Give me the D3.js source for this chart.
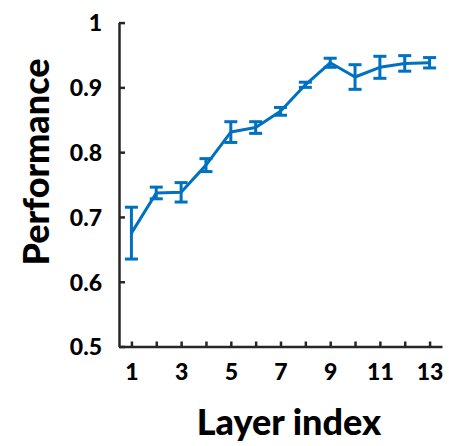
<!DOCTYPE html>
<html>
<head>
<meta charset="utf-8">
<script src="https://cdn.jsdelivr.net/npm/d3@7"></script>
<style>
  html, body { margin: 0; padding: 0; background: #fff; }
  svg { display: block; }
  text { font-family: Lato, "Open Sans", sans-serif; font-weight: 900; fill: #000; }
</style>
</head>
<body>
<svg id="chart" width="449" height="446"></svg>
<script>
// Layer-wise performance with error bars
const layers = [1, 2, 3, 4, 5, 6, 7, 8, 9, 10, 11, 12, 13];
const performance = [0.675, 0.737, 0.738, 0.780, 0.831, 0.838, 0.863, 0.904, 0.938, 0.916, 0.931, 0.937, 0.938];
const errors = [0.040, 0.009, 0.015, 0.010, 0.016, 0.009, 0.006, 0.004, 0.007, 0.019, 0.017, 0.012, 0.008];
const yTicks = [0.5, 0.6, 0.7, 0.8, 0.9, 1];
const xTickLabels = [1, 3, 5, 7, 9, 11, 13];

const blue = "#0070C0";
const axisColor = "#262626";

const svg = d3.select("#chart");

const x = d3.scaleLinear().domain([0.5, 13.5]).range([119, 442]);
const y = d3.scaleLinear().domain([0.5, 1]).range([346.5, 22.6]);

const data = layers.map((l, i) => ({ layer: l, v: performance[i], e: errors[i] }));

// y axis: ticks point inward
const yAxis = d3.axisLeft(y).tickValues(yTicks).tickSizeInner(-6).tickSizeOuter(0)
  .tickFormat(d => d === 1 ? "1" : d3.format(".1f")(d));
const gy = svg.append("g").attr("transform", `translate(${x.range()[0]},0)`).call(yAxis);
gy.select(".domain").attr("stroke", axisColor).attr("stroke-width", 2.5);
gy.selectAll(".tick line").attr("stroke", axisColor).attr("stroke-width", 2.5);
gy.selectAll(".tick text").attr("x", -17).attr("dy", "0.36em")
  .style("font-size", "23px").style("font-family", "Lato, sans-serif").style("font-weight", "900");

// x axis: every layer has a tick, odd layers are labelled
const xAxis = d3.axisBottom(x).tickValues(layers).tickSizeInner(-5).tickSizeOuter(0)
  .tickFormat(d => xTickLabels.includes(d) ? String(d) : "");
const gx = svg.append("g").attr("transform", `translate(0,${y.range()[0]})`).call(xAxis);
gx.select(".domain").attr("stroke", axisColor).attr("stroke-width", 2.5);
gx.selectAll(".tick line").attr("stroke", axisColor).attr("stroke-width", 2.5);
gx.selectAll(".tick text").attr("y", 17).attr("dy", "0.71em")
  .style("font-size", "23px").style("font-family", "Lato, sans-serif").style("font-weight", "900");

// connecting line
svg.append("path").datum(data)
  .attr("fill", "none").attr("stroke", blue).attr("stroke-width", 3)
  .attr("stroke-linejoin", "round")
  .attr("d", d3.line().x(d => x(d.layer)).y(d => y(d.v)));

// error bars
const capHalf = 6.5;
const eb = svg.append("g").attr("stroke", blue).attr("stroke-width", 3);
data.forEach(d => {
  const cx = x(d.layer), top = y(d.v + d.e), bot = y(d.v - d.e);
  eb.append("line").attr("x1", cx).attr("x2", cx).attr("y1", top).attr("y2", bot);
  eb.append("line").attr("x1", cx - capHalf).attr("x2", cx + capHalf).attr("y1", top).attr("y2", top);
  eb.append("line").attr("x1", cx - capHalf).attr("x2", cx + capHalf).attr("y1", bot).attr("y2", bot);
});

// axis titles
svg.append("text").attr("x", 289).attr("y", 435).attr("text-anchor", "middle")
  .style("font-size", "36px").text("Layer index");
svg.append("text").attr("transform", "translate(49,162) rotate(-90)").attr("text-anchor", "middle")
  .style("font-size", "36px").text("Performance");
</script>
</body>
</html>
